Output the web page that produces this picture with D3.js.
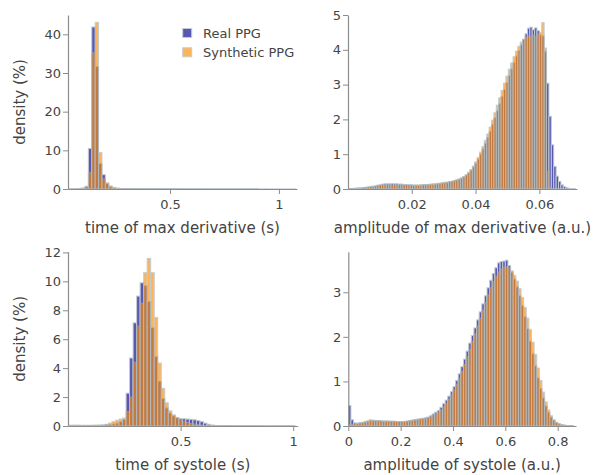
<!DOCTYPE html>
<html><head><meta charset="utf-8">
<script src="https://cdn.jsdelivr.net/npm/d3@7"></script>
<style>
body{margin:0;background:#fff}
svg{display:block}
text{font-family:"DejaVu Sans",Verdana,sans-serif;fill:#444}
</style>
</head><body>
<svg id="chart" width="599" height="475"></svg>
<script>
// ---------- DATA ----------
const seriesNames = ["Real PPG", "Synthetic PPG"];

// time of max derivative (s): bins of 1/64 s starting at 2/64
const tmdBinStart = 2 / 64, tmdBinWidth = 1 / 64;
const tmdReal = [0.02,0.03,0.05,0.1,0.25,0.7,10.5,41.9,31.7,6.6,3.7,1.4,0.6,0.3,0.2,0.15,
  0.12,0.1,0.1,0.09,0.09,0.08,0.08,0.08,0.07,0.07,0.07,0.07,0.06,0.06,0.06,0.05,0.05,0.05,0.05,0.04,
  0.04,0.04,0.04,0.03,0.03,0.03,0.03,0.03,0.03,0.03,0.02,0.02,0.02,0.02,0.02,0.02,0.02,0.02,0.02,0.02,
  0.02,0.02,0.02,0.01,0.01,0.01,0.01,0.01,0.01,0.01,0.01];
const tmdSynth = [0.01,0.02,0.03,0.08,0.2,0.5,4.3,35.2,43.1,9.4,2.6,1.6,0.8,0.4,0.2,0.1,
  0.08,0.06,0.05,0.05,0.04,0.04,0.04,0.03,0.03,0.03,0.03,0.03,0.02,0.02,0.02,0.02,0.02,0.02,0.02,0.02,
  0.02,0.01,0.01,0.01,0.01,0.01,0.01,0.01,0.01,0.01,0.01,0.01,0.01,0.01,0.01,0.01,0.01,0.01,0.01,0.01];
const tmdXTicks = [0.5, 1], tmdYTicks = [0, 10, 20, 30, 40];

// amplitude of max derivative (a.u.)
const amdBinStart = 0, amdBinWidth = 0.00075;
const amdReal = [0.01,0.01,0.02,0.02,0.03,0.03,0.04,0.05,0.06,0.07,
  0.08,0.09,0.11,0.13,0.14,0.15,0.15,0.15,0.16,0.15,
  0.15,0.14,0.14,0.13,0.13,0.12,0.12,0.11,0.11,0.11,
  0.11,0.12,0.12,0.12,0.13,0.13,0.14,0.15,0.16,0.17,
  0.18,0.19,0.21,0.22,0.24,0.26,0.28,0.31,0.35,0.40,
  0.46,0.54,0.63,0.74,0.86,1.00,1.15,1.31,1.48,1.66,
  1.85,2.05,2.25,2.45,2.66,2.86,3.06,3.26,3.45,3.64,
  3.82,3.98,4.14,4.30,4.46,4.62,4.65,4.58,4.63,4.55,
  4.43,4.40,3.95,3.04,2.09,1.27,0.65,0.37,0.22,0.12,
  0.07,0.04,0.02,0.01,0.01,0];
const amdSynth = [0.01,0.01,0.01,0.02,0.02,0.03,0.04,0.04,0.05,0.06,
  0.07,0.08,0.09,0.10,0.11,0.12,0.12,0.12,0.12,0.12,
  0.12,0.12,0.11,0.11,0.11,0.11,0.11,0.11,0.11,0.11,
  0.12,0.12,0.13,0.13,0.14,0.15,0.15,0.16,0.17,0.18,
  0.19,0.20,0.21,0.22,0.24,0.26,0.29,0.32,0.36,0.41,
  0.48,0.56,0.66,0.78,0.91,1.06,1.22,1.40,1.58,1.78,
  1.98,2.19,2.41,2.62,2.83,3.04,3.24,3.44,3.62,3.80,
  3.96,4.10,4.22,4.30,4.36,4.40,4.36,4.42,4.38,4.45,
  4.50,4.78,4.05,0.50,0.05,0.01,0,0,0,0,
  0,0,0,0,0,0];
const amdXTicks = [0.02, 0.04, 0.06], amdYTicks = [0, 1, 2, 3, 4, 5];

// time of systole (s): bins of 1/64 s centred on k/64, k = 1..64
const tsBinStart = 0.5 / 64, tsBinWidth = 1 / 64;
const tsReal = [0.06,0.06,0.06,0.05,0.05,0.05,0.05,0.06,0.06,0.07,
  0.09,0.11,0.14,0.2,0.3,0.45,
  2.27,4.7,7.13,8.98,9.9,9.7,8.6,6.8,4.8,3.1,
  1.9,1.25,0.9,0.7,0.58,0.52,0.5,0.48,0.46,0.43,
  0.38,0.3,0.2,0.12,0.07,0.04,0.03,0.03,0.03,0.02,
  0.02,0.02,0.02,0.02,0.02,0.02,0.02,0.02,0.01,0.01,
  0.01,0.01,0.01,0.01,0.01,0.01,0.01,0.01];
const tsSynth = [0.02,0.02,0.02,0.02,0.02,0.03,0.03,0.04,0.05,0.06,
  0.12,0.2,0.3,0.4,0.48,0.55,
  1.0,2.0,4.4,6.9,8.5,10.6,11.58,10.6,7.5,4.35,
  2.6,1.6,1.05,0.77,0.56,0.43,0.33,0.25,0.18,0.13,
  0.09,0.06,0.04,0.03,0.03,0.02,0.02,0.02,0.02,0.02,
  0.01,0.01,0.01,0.01,0.01,0.01,0.01,0.01,0.01,0.01,
  0.01,0.01,0.01,0.01,0.01,0.01,0.01,0.01];
const tsXTicks = [0.5, 1], tsYTicks = [0, 2, 4, 6, 8, 10, 12];

// amplitude of systole (a.u.)
const asBinStart = 0, asBinWidth = 0.01;
const asReal = [0.46,0.14,0.07,0.06,0.07,0.08,0.09,0.1,0.12,0.12,
  0.12,0.12,0.12,0.11,0.11,0.11,0.11,0.11,0.1,0.1,
  0.1,0.1,0.11,0.12,0.13,0.14,0.15,0.16,0.17,0.18,
  0.2,0.23,0.27,0.31,0.35,0.42,0.5,0.58,0.67,0.77,
  0.88,1.02,1.17,1.33,1.5,1.68,1.86,2.03,2.2,2.38,
  2.56,2.74,2.92,3.1,3.27,3.42,3.55,3.66,3.69,3.7,
  3.72,3.6,3.45,3.3,3.12,2.92,2.7,2.45,2.18,1.9,
  1.62,1.35,1.08,0.84,0.63,0.45,0.31,0.2,0.13,0.08,
  0.05,0.03,0.02,0.01,0.01,0.005,0];
const asSynth = [0.03,0.04,0.05,0.06,0.07,0.08,0.1,0.12,0.14,0.13,
  0.12,0.12,0.11,0.11,0.11,0.11,0.1,0.1,0.1,0.1,
  0.1,0.1,0.11,0.12,0.13,0.14,0.15,0.16,0.17,0.18,
  0.19,0.21,0.24,0.27,0.31,0.36,0.43,0.51,0.6,0.7,
  0.81,0.93,1.07,1.22,1.38,1.55,1.72,1.9,2.07,2.24,
  2.42,2.6,2.77,2.94,3.1,3.24,3.36,3.45,3.52,3.56,
  3.57,3.55,3.48,3.38,3.25,3.08,2.88,2.66,2.42,2.16,
  1.88,1.6,1.3,1.02,0.76,0.54,0.36,0.23,0.14,0.08,
  0.05,0.03,0.02,0.01,0.01,0.005,0];
const asXTicks = [0, 0.2, 0.4, 0.6, 0.8], asYTicks = [0, 1, 2, 3];

// ---------- LAYOUT ----------
const colors = ["rgb(0,0,139)", "rgb(255,140,0)"];
const traceOpacity = 0.65;
const outline = "rgb(165,178,185)";
const textColor = "#444", axisColor = "#8c8c8c";

const panels = [
  {real: tmdReal, synth: tmdSynth, start: tmdBinStart, w: tmdBinWidth, xDom: [0.0315, 1.083], yDom: [0, 45],
   xTicks: tmdXTicks, yTicks: tmdYTicks, xTitle: "time of max derivative (s)", yTitle: "density (%)",
   x0: 68, x1: 297, y0: 15, y1: 189, legend: true},
  {real: amdReal, synth: amdSynth, start: amdBinStart, w: amdBinWidth, xDom: [0, 0.0718], yDom: [0, 5],
   xTicks: amdXTicks, yTicks: amdYTicks, xTitle: "amplitude of max derivative (a.u.)", yTitle: null,
   x0: 348, x1: 577, y0: 15, y1: 189},
  {real: tsReal, synth: tsSynth, start: tsBinStart, w: tsBinWidth, xDom: [0, 1.02], yDom: [0, 12.05],
   xTicks: tsXTicks, yTicks: tsYTicks, xTitle: "time of systole (s)", yTitle: "density (%)",
   x0: 68, x1: 297.7, y0: 251.7, y1: 426},
  {real: asReal, synth: asSynth, start: asBinStart, w: asBinWidth, xDom: [0, 0.87], yDom: [0, 3.91],
   xTicks: asXTicks, yTicks: asYTicks, xTitle: "amplitude of systole (a.u.)", yTitle: null,
   x0: 348.3, x1: 576, y0: 251.7, y1: 426}
];

const svg = d3.select("#chart");
const fmt = d3.format("~g");

panels.forEach((p, pi) => {
  const x = d3.scaleLinear().domain(p.xDom).range([p.x0, p.x1]);
  const y = d3.scaleLinear().domain(p.yDom).range([p.y1, p.y0]);

  const clipId = "clip" + pi;
  svg.append("clipPath").attr("id", clipId).append("rect")
    .attr("x", p.x0).attr("y", p.y0 - 5).attr("width", p.x1 - p.x0).attr("height", p.y1 - p.y0 + 5);

  const plot = svg.append("g").attr("clip-path", `url(#${clipId})`);
  [p.real, p.synth].forEach((vals, si) => {
    const g = plot.append("g").attr("opacity", traceOpacity);
    g.selectAll("rect").data(vals.map((v, i) => ({v, i})).filter(d => d.v > 0)).join("rect")
      .attr("x", d => x(p.start + d.i * p.w))
      .attr("width", d => x(p.start + (d.i + 1) * p.w) - x(p.start + d.i * p.w))
      .attr("y", d => y(d.v))
      .attr("height", d => y(0) - y(d.v))
      .attr("fill", colors[si])
      .attr("stroke", outline)
      .attr("stroke-width", 1);
  });

  const gx = svg.append("g").attr("transform", `translate(0,${p.y1})`)
    .call(d3.axisBottom(x).tickValues(p.xTicks).tickFormat(fmt).tickSize(5).tickPadding(6).tickSizeOuter(0));
  const gy = svg.append("g").attr("transform", `translate(${p.x0},0)`)
    .call(d3.axisLeft(y).tickValues(p.yTicks).tickFormat(fmt).tickSize(5).tickPadding(2).tickSizeOuter(0));
  [gx, gy].forEach(g => {
    g.select(".domain").attr("stroke", axisColor).attr("stroke-width", 1.2);
    g.selectAll(".tick line").attr("stroke", axisColor);
    g.selectAll(".tick text").attr("fill", textColor).style("font-size", "13px")
      .style("font-family", '"DejaVu Sans",Verdana,sans-serif');
  });

  svg.append("text").attr("x", (p.x0 + p.x1) / 2).attr("y", p.y1 + 44)
    .attr("text-anchor", "middle").style("font-size", "15px").text(p.xTitle);

  if (p.yTitle) {
    const cy = (p.y0 + p.y1) / 2;
    svg.append("text").attr("transform", `translate(25,${cy}) rotate(-90)`)
      .attr("text-anchor", "middle").style("font-size", "15px").text(p.yTitle);
  }

  if (p.legend) {
    seriesNames.forEach((name, si) => {
      const ly = 33 + si * 19.3;
      svg.append("rect").attr("x", 182.7).attr("y", ly - 4.5).attr("width", 9).attr("height", 9)
        .attr("fill", colors[si]).attr("opacity", traceOpacity)
        .attr("stroke", outline).attr("stroke-width", 1);
      svg.append("text").attr("x", 203).attr("y", ly + 4.5).style("font-size", "13px").text(name);
    });
  }
});
</script>
</body></html>
